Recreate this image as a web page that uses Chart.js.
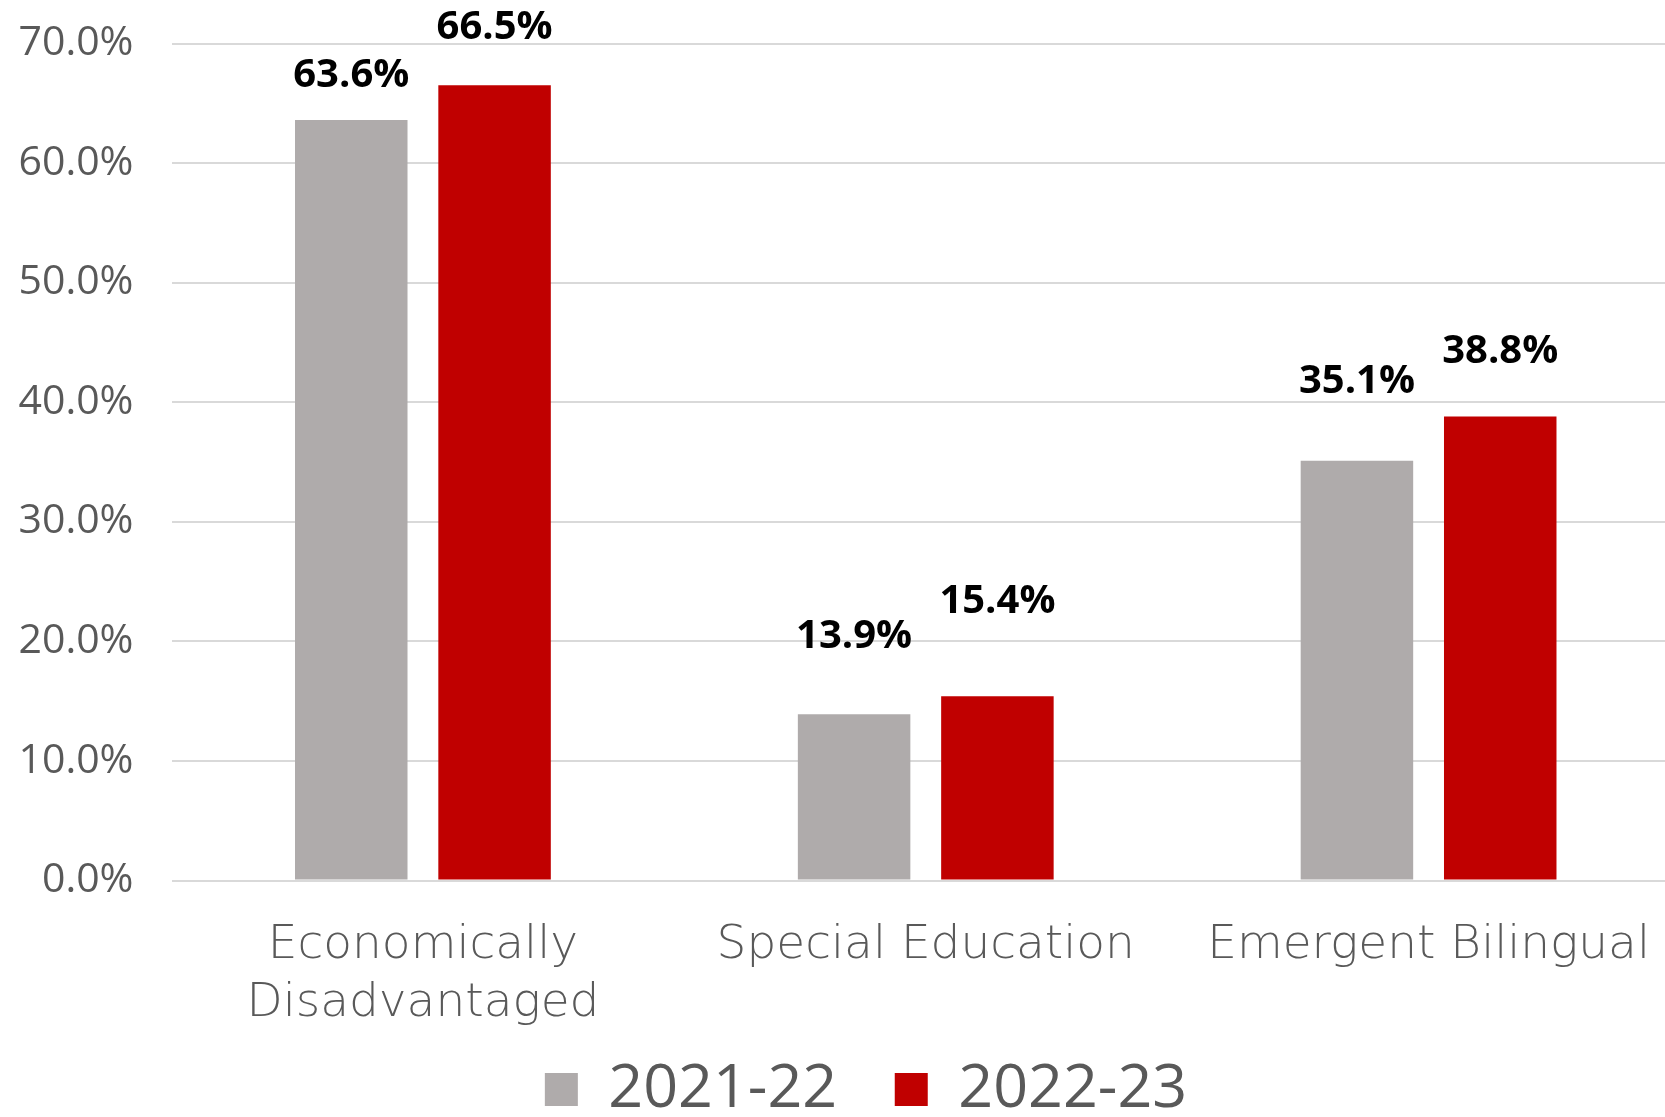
<!DOCTYPE html>
<html>
<head>
<meta charset="utf-8">
<script src="https://cdn.jsdelivr.net/npm/chart.js@4/dist/chart.umd.min.js"></script>
<style>
  html, body { margin: 0; padding: 0; background: #fff; overflow: hidden; }
  #wrap { position: relative; width: 1680px; height: 1130px; }
</style>
</head>
<body>
<div id="wrap"><canvas id="chart"></canvas></div>
<script>
// DATA
const categories = [['Economically', 'Disadvantaged'], 'Special Education', 'Emergent Bilingual'];
const seriesNames = ['2021-22', '2022-23'];
const values2122 = [63.6, 13.9, 35.1];
const values2223 = [66.5, 15.4, 38.8];
const yTicks = [0, 10, 20, 30, 40, 50, 60, 70];

// how far each value label sits above its bar (px), set by hand in the original
const labelLift = [[44, 78, 79], [58, 95, 65]];

const GREY = '#AFABAB';
const RED = '#C00000';
const TEXT = '#595959';
const FONT = "'Open Sans', sans-serif";
const CAT_FONT = "'DejaVu Sans', sans-serif";

// draw the bold value labels over the bars
const valueLabels = {
    id: 'valueLabels',
    afterDatasetsDraw(chart) {
        const ctx = chart.ctx;
        ctx.save();
        ctx.fillStyle = '#000';
        ctx.font = 'bold 40px ' + FONT;
        ctx.textAlign = 'center';
        ctx.textBaseline = 'middle';
        chart.data.datasets.forEach((ds, d) => {
            chart.getDatasetMeta(d).data.forEach((bar, i) => {
                ctx.fillText(ds.data[i].toFixed(1) + '%', bar.x, bar.y - labelLift[d][i]);
            });
        });
        ctx.restore();
    }
};

// legend in the original sits a little right of centre
const legendNudge = {
    id: 'legendNudge',
    afterLayout(chart) {
        chart.legend.left += 26;
        chart.legend.right += 26;
    }
};

new Chart(document.getElementById('chart'), {
    type: 'bar',
    data: {
        labels: categories,
        datasets: [
            { label: seriesNames[0], data: values2122, backgroundColor: GREY },
            { label: seriesNames[1], data: values2223, backgroundColor: RED }
        ]
    },
    options: {
        responsive: true,
        maintainAspectRatio: false,
        animation: false,
        categoryPercentage: 0.57,
        barPercentage: 0.785,
        layout: { padding: { top: 43.5, left: 0, right: 0, bottom: 0 } },
        scales: {
            y: {
                min: 0,
                max: 70,
                afterBuildTicks: scale => { scale.ticks = yTicks.map(v => ({ value: v })); },
                afterFit: scale => {
                    scale.width = 171.5;
                    scale.paddingTop = 0;
                    scale.paddingBottom = 0;
                },
                border: { display: false },
                grid: { color: '#D9D9D9', lineWidth: 2, drawTicks: false },
                ticks: {
                    padding: 38,
                    color: TEXT,
                    font: { family: FONT, size: 41 },
                    callback: v => v.toFixed(1) + '%'
                }
            },
            x: {
                afterFit: scale => {
                    scale.height = 151.5;
                    scale.paddingLeft = 0;
                    scale.paddingRight = 0;
                },
                border: { display: false },
                grid: { display: false, drawTicks: false },
                ticks: {
                    padding: 36,
                    color: TEXT,
                    maxRotation: 0,
                    autoSkip: false,
                    font: { family: CAT_FONT, size: 47, weight: 200, lineHeight: 1.24 }
                }
            }
        },
        plugins: {
            legend: {
                position: 'bottom',
                labels: {
                    boxWidth: 33,
                    boxHeight: 33,
                    padding: 27,
                    color: TEXT,
                    font: { family: FONT, size: 61 },
                    generateLabels: chart => {
                        const items = Chart.defaults.plugins.legend.labels.generateLabels(chart);
                        items[0].text += '\u2002';
                        return items;
                    }
                }
            },
            tooltip: { enabled: false }
        }
    },
    plugins: [valueLabels, legendNudge]
});
</script>
</body>
</html>
